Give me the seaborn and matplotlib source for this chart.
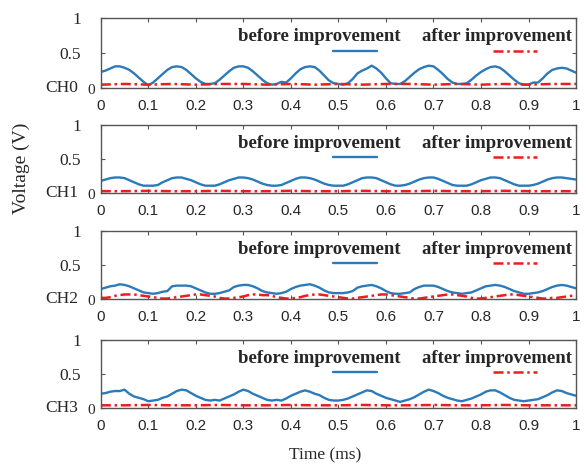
import numpy as np
import pandas as pd
import matplotlib
matplotlib.use("Agg")
import matplotlib.pyplot as plt
import seaborn as sns

sns.set_style("ticks")
plt.rcParams['font.family'] = ['Liberation Serif', 'DejaVu Serif']

# time grid, ms
time = np.round(np.arange(0, 101) * 0.01, 2)
time_after = np.round(np.arange(0, 21) * 0.05, 2)

channels = ["CH0", "CH1", "CH2", "CH3"]
x_ticks = [0, 0.1, 0.2, 0.3, 0.4, 0.5, 0.6, 0.7, 0.8, 0.9, 1]
x_tick_labels = ["0", "0.1", "0.2", "0.3", "0.4", "0.5", "0.6", "0.7", "0.8", "0.9", "1"]

ch0_before = [0.23, 0.25, 0.28, 0.31, 0.31, 0.29, 0.26, 0.21, 0.15, 0.09,
              0.04, 0.08, 0.14, 0.20, 0.26, 0.30, 0.31, 0.30, 0.26, 0.20,
              0.14, 0.09, 0.06, 0.06, 0.07, 0.12, 0.18, 0.24, 0.29, 0.31,
              0.31, 0.29, 0.24, 0.18, 0.12, 0.07, 0.05, 0.06, 0.09, 0.08,
              0.14, 0.21, 0.27, 0.30, 0.31, 0.30, 0.25, 0.18, 0.11, 0.07,
              0.06, 0.05, 0.07, 0.13, 0.21, 0.25, 0.28, 0.32, 0.28, 0.22,
              0.14, 0.07, 0.06, 0.06, 0.10, 0.16, 0.22, 0.27, 0.30, 0.32,
              0.31, 0.26, 0.20, 0.13, 0.08, 0.06, 0.06, 0.07, 0.12, 0.18,
              0.23, 0.27, 0.30, 0.31, 0.29, 0.24, 0.18, 0.12, 0.07, 0.05,
              0.05, 0.08, 0.08, 0.14, 0.21, 0.26, 0.28, 0.29, 0.28, 0.25,
              0.22]
ch1_before = [0.18, 0.20, 0.22, 0.23, 0.23, 0.22, 0.19, 0.16, 0.13, 0.11,
              0.11, 0.11, 0.12, 0.16, 0.19, 0.22, 0.23, 0.23, 0.21, 0.19,
              0.16, 0.13, 0.11, 0.11, 0.11, 0.13, 0.16, 0.19, 0.21, 0.23,
              0.23, 0.22, 0.20, 0.17, 0.14, 0.12, 0.11, 0.11, 0.12, 0.15,
              0.18, 0.21, 0.23, 0.23, 0.22, 0.20, 0.17, 0.14, 0.12, 0.11,
              0.11, 0.11, 0.13, 0.16, 0.19, 0.22, 0.23, 0.23, 0.22, 0.19,
              0.16, 0.13, 0.11, 0.11, 0.12, 0.14, 0.17, 0.20, 0.22, 0.23,
              0.23, 0.21, 0.18, 0.15, 0.12, 0.11, 0.11, 0.11, 0.13, 0.16,
              0.19, 0.21, 0.23, 0.23, 0.22, 0.19, 0.16, 0.13, 0.11, 0.11,
              0.11, 0.12, 0.14, 0.17, 0.20, 0.22, 0.23, 0.23, 0.22, 0.21,
              0.20]
ch2_before = [0.15, 0.17, 0.19, 0.20, 0.22, 0.21, 0.19, 0.16, 0.13, 0.10,
              0.09, 0.08, 0.09, 0.11, 0.12, 0.19, 0.20, 0.20, 0.20, 0.19,
              0.16, 0.13, 0.10, 0.08, 0.08, 0.09, 0.11, 0.13, 0.18, 0.20,
              0.21, 0.21, 0.19, 0.16, 0.12, 0.10, 0.09, 0.08, 0.09, 0.11,
              0.15, 0.18, 0.20, 0.21, 0.22, 0.20, 0.17, 0.13, 0.10, 0.09,
              0.09, 0.09, 0.10, 0.12, 0.17, 0.19, 0.20, 0.21, 0.19, 0.16,
              0.12, 0.09, 0.08, 0.08, 0.09, 0.10, 0.15, 0.18, 0.20, 0.20,
              0.20, 0.18, 0.15, 0.12, 0.10, 0.09, 0.08, 0.09, 0.10, 0.13,
              0.16, 0.19, 0.20, 0.21, 0.20, 0.18, 0.15, 0.12, 0.10, 0.08,
              0.08, 0.09, 0.10, 0.12, 0.15, 0.18, 0.20, 0.21, 0.20, 0.18,
              0.16]
ch3_before = [0.21, 0.22, 0.24, 0.25, 0.25, 0.27, 0.21, 0.17, 0.15, 0.13,
              0.10, 0.11, 0.12, 0.15, 0.17, 0.21, 0.25, 0.27, 0.26, 0.22,
              0.18, 0.15, 0.12, 0.11, 0.12, 0.11, 0.14, 0.17, 0.20, 0.24,
              0.27, 0.25, 0.21, 0.18, 0.15, 0.12, 0.11, 0.12, 0.11, 0.14,
              0.18, 0.21, 0.24, 0.26, 0.24, 0.21, 0.19, 0.15, 0.12, 0.11,
              0.11, 0.12, 0.14, 0.17, 0.20, 0.23, 0.26, 0.25, 0.21, 0.18,
              0.15, 0.13, 0.11, 0.09, 0.11, 0.13, 0.16, 0.20, 0.24, 0.27,
              0.25, 0.22, 0.18, 0.15, 0.13, 0.11, 0.10, 0.12, 0.14, 0.17,
              0.20, 0.24, 0.26, 0.26, 0.23, 0.19, 0.15, 0.12, 0.11, 0.10,
              0.11, 0.12, 0.13, 0.16, 0.19, 0.23, 0.26, 0.25, 0.22, 0.20,
              0.18]

ch0_after = [0.05, 0.06, 0.05, 0.06, 0.05, 0.06, 0.06, 0.05, 0.06, 0.05, 0.06,
             0.05, 0.06, 0.06, 0.05, 0.06, 0.05, 0.06, 0.05, 0.06, 0.06]
ch1_after = [0.03, 0.03, 0.035, 0.03, 0.03, 0.035, 0.03, 0.03, 0.035, 0.03, 0.03,
             0.035, 0.03, 0.03, 0.035, 0.03, 0.03, 0.035, 0.03, 0.03, 0.03]
ch2_after = [0.02, 0.02, 0.03, 0.05, 0.06, 0.07, 0.07, 0.07, 0.06, 0.05,
             0.04, 0.03, 0.02, 0.01, 0.01, 0.02, 0.03, 0.04, 0.05, 0.06,
             0.07, 0.07, 0.06, 0.05, 0.04, 0.02, 0.01, 0.01, 0.02, 0.03,
             0.04, 0.06, 0.07, 0.07, 0.06, 0.06, 0.05, 0.03, 0.02, 0.01,
             0.01, 0.02, 0.03, 0.05, 0.06, 0.07, 0.07, 0.06, 0.05, 0.04,
             0.03, 0.02, 0.01, 0.01, 0.02, 0.03, 0.04, 0.05, 0.06, 0.07,
             0.07, 0.06, 0.05, 0.04, 0.03, 0.02, 0.01, 0.01, 0.02, 0.03,
             0.04, 0.05, 0.06, 0.07, 0.07, 0.06, 0.05, 0.04, 0.02, 0.01,
             0.01, 0.02, 0.03, 0.04, 0.05, 0.06, 0.07, 0.07, 0.06, 0.05,
             0.04, 0.03, 0.02, 0.01, 0.01, 0.02, 0.02, 0.03, 0.04, 0.05,
             0.05]
ch3_after = [0.04, 0.04, 0.045, 0.04, 0.04, 0.045, 0.04, 0.04, 0.045, 0.04, 0.04,
             0.045, 0.04, 0.04, 0.045, 0.04, 0.04, 0.045, 0.04, 0.04, 0.04]

before_series = [ch0_before, ch1_before, ch2_before, ch3_before]
after_series = [ch0_after, ch1_after, ch2_after, ch3_after]
after_times = [time_after, time_after, time, time_after]

blue = "#2b7bba"
red = "#ee1c1c"
dashdot = (0, (4, 1.5, 1, 1.5))

fig = plt.figure(figsize=(5.86, 4.69), dpi=100)
# axes boxes in figure fractions [left, bottom, width, height]
boxes = [[0.172, 0.812, 0.811, 0.150],
         [0.172, 0.588, 0.811, 0.146],
         [0.172, 0.362, 0.811, 0.145],
         [0.172, 0.130, 0.811, 0.145]]

for i, ch in enumerate(channels):
    ax = fig.add_axes(boxes[i])
    sns.lineplot(x=time, y=before_series[i], ax=ax, color=blue, lw=1.7)
    after_line = ax.plot(after_times[i], after_series[i], color=red, lw=1.8,
                         linestyle=dashdot)[0]
    before_line = ax.get_lines()[0]

    ax.set_xlim(0, 1)
    ax.set_ylim(0, 1)
    ax.set_xticks(x_ticks)
    ax.set_xticklabels(x_tick_labels, family=['Liberation Sans'], fontsize=11)
    ax.set_yticks([0, 0.5, 1])
    ax.set_yticklabels(["", "0.5", "1"], fontsize=12.5)
    ax.tick_params(direction='in', length=3, width=0.8, color='#555555',
                   top=True, right=True)
    ax.tick_params(axis='x', pad=8)
    ax.tick_params(axis='y', pad=14)
    for s in ax.spines.values():
        s.set_color('#555555')
        s.set_linewidth(1.0)

    ax.text(-0.013, -0.03, "0", transform=ax.transAxes, ha='right', va='center',
            fontsize=11)
    ax.text(-0.048, 0.0, ch, transform=ax.transAxes, ha='right', va='center',
            fontsize=12.5)

    ax.text(0.288, 0.73, "before improvement", transform=ax.transAxes,
            fontsize=13.5, fontweight='bold', ha='left', va='center')
    ax.text(0.675, 0.73, "after improvement", transform=ax.transAxes,
            fontsize=13.5, fontweight='bold', ha='left', va='center')

    leg1 = ax.legend([before_line], [""], loc='center left',
                     bbox_to_anchor=(0.488, 0.51), frameon=False, borderpad=0,
                     borderaxespad=0, handletextpad=0, handlelength=3.17)
    ax.add_artist(leg1)
    ax.legend([after_line], [""], loc='center left',
              bbox_to_anchor=(0.825, 0.51), frameon=False, borderpad=0,
              borderaxespad=0, handletextpad=0, handlelength=3.17)
    ax.set_xlabel("")
    ax.set_ylabel("")

fig.text(0.036, 0.642, "Voltage (V)", rotation=90, ha='center', va='center',
         fontsize=14)
fig.text(0.555, 0.03, "Time (ms)", ha='center', va='center', fontsize=12.5)

fig.savefig("out.png", dpi=100)
